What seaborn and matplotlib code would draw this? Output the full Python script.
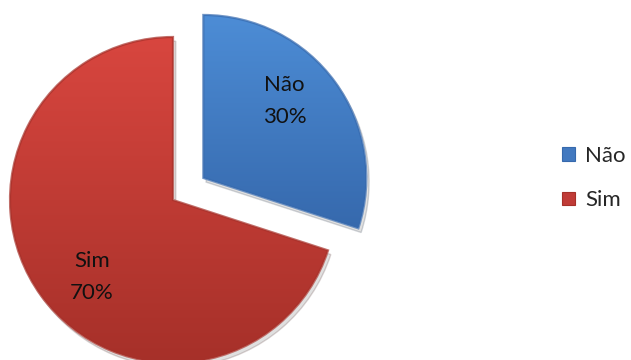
import numpy as np
import matplotlib
matplotlib.use("Agg")
import matplotlib.pyplot as plt
import matplotlib.patches as mpatches
from matplotlib.colors import LinearSegmentedColormap
import seaborn as sns

# Survey answers
categories = ["Não", "Sim"]
values = [30, 70]

# Top/bottom shades of each slice and the flat tone used in the legend
top_colors = ["#4d8dd6", "#d8463f"]
bottom_colors = ["#3669ad", "#a63029"]
flat_colors = ["#4279c0", "#c03b37"]

sns.set_theme(style="white")
plt.rcParams["font.family"] = ["Lato", "DejaVu Sans"]

fig = plt.figure(figsize=(6.31, 3.6), dpi=100)
ax = fig.add_axes([0, 0, 1, 1])

R = 163
wedges, texts, autotexts = ax.pie(
    values,
    colors=flat_colors,
    startangle=90,
    counterclock=False,
    explode=[0.23 * R, 0.0],   # pie offsets are in data units
    radius=R,
    center=(173, 160),
    autopct="%1.0f%%",
    pctdistance=0.69,
    textprops=dict(fontsize=16, color="#111111"),
)

ax.set_aspect("equal")
ax.axis("off")

# Vertical gradient inside each slice, plus a soft drop shadow and darker rim
for w, c_top, c_bot in zip(wedges, top_colors, bottom_colors):
    sh = mpatches.Shadow(w, 2, -3, alpha=0.18, zorder=0.5)
    sh.set_facecolor("#555555")
    ax.add_patch(sh)
    bb = w.get_path().get_extents(w.get_transform() - ax.transData)
    cmap = LinearSegmentedColormap.from_list("g", [c_bot, c_top])
    grad = np.linspace(0, 1, 256).reshape(-1, 1)
    im = ax.imshow(grad, cmap=cmap, origin="lower", aspect="auto",
                   extent=(bb.x0, bb.x1, bb.y0, bb.y1), zorder=2,
                   interpolation="bilinear")
    im.set_clip_path(w)
    w.set_zorder(1)
    rim = mpatches.PathPatch(w.get_path(), transform=w.get_transform(),
                             facecolor="none", edgecolor=c_bot,
                             linewidth=1.6, alpha=0.7, zorder=3)
    ax.add_patch(rim)

ax.set_xlim(0, 631)
ax.set_ylim(0, 360)

# Data labels: category and share, set a little counter-clockwise of the bisector
for w, t, cat, v in zip(wedges, autotexts, categories, values):
    ang = np.deg2rad((w.theta1 + w.theta2) / 2 + 7.5)
    cx, cy = w.center
    t.set_position((cx + 0.687 * w.r * np.cos(ang), cy + 0.687 * w.r * np.sin(ang)))
    t.set_text(f"{cat}\n{v}%")
    t.set_linespacing(1.75)
    t.set_zorder(5)

leg = ax.legend(
    wedges, categories,
    loc="center left",
    bbox_to_anchor=(558 / 631, (360 - 178) / 360),
    bbox_transform=fig.transFigure,
    frameon=False,
    fontsize=16,
    handlelength=0.56,
    handleheight=0.56,
    handletextpad=0.45,
    labelspacing=1.1,
    borderaxespad=0,
    borderpad=0.2,
)
for h, c in zip(leg.legend_handles, bottom_colors):
    h.set_edgecolor(c)
    h.set_linewidth(0.8)

fig.savefig("out.png", dpi=100)
